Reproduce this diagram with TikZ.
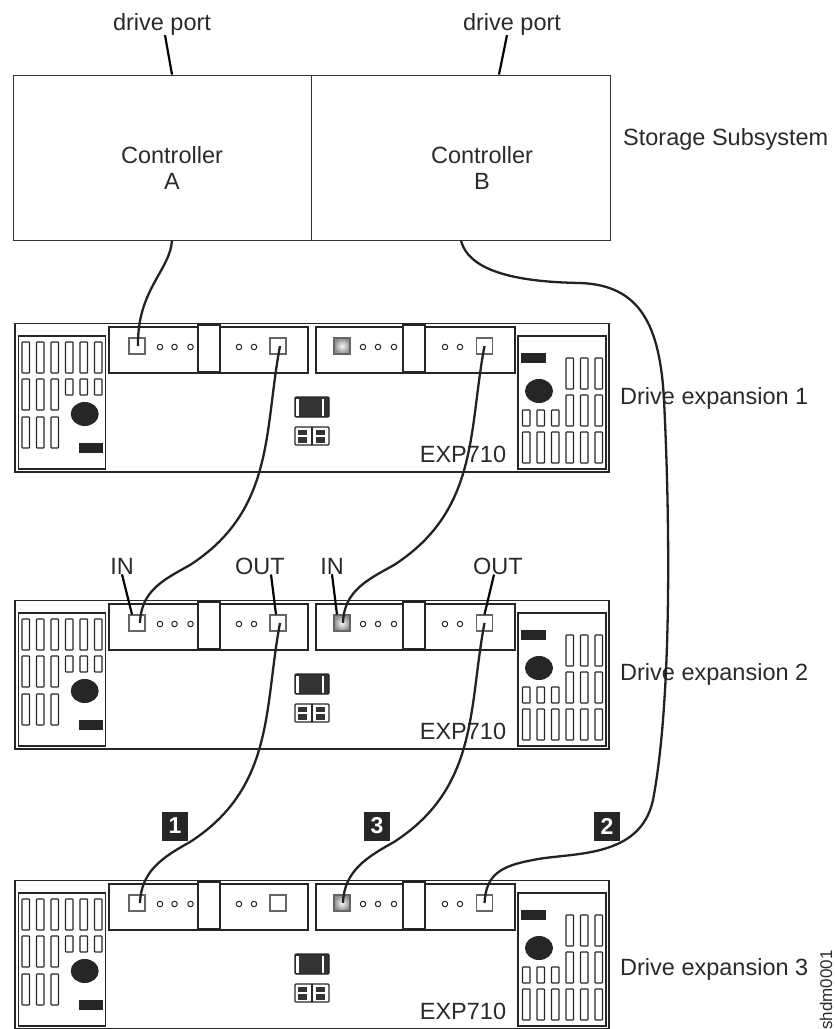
\documentclass[tikz,border=0pt]{standalone}
\usepackage{fontspec}
\setmainfont{Liberation Sans}
\usetikzlibrary{arrows.meta,calc,positioning}
\definecolor{cableblack}{HTML}{222222}
\definecolor{textgray}{HTML}{2A2A2A}
\begin{document}
\begin{tikzpicture}[
        x=1pt,
        y=-1pt,
        caption/.style={
            align=center,
            inner sep=0pt,
            text=textgray,
            font=\fontsize{23.5}{26}\selectfont
        },
        sidecaption/.style={caption, anchor=west},
        ctrlbox/.style={draw=black!80, line width=0.9pt, minimum width=298.5pt, minimum height=165pt, inner sep=0pt},
        chassis/.style={draw=black!85, line width=1.3pt},
        panel/.style={draw=black!85, line width=1.2pt},
        slot/.style={draw=black!85, line width=1.1pt, rounded corners=0.6pt},
        portbox/.style={draw=black!60, line width=1.1pt, fill=white, minimum size=16pt, inner sep=0pt},
        shadedport/.style={portbox, inner color=black!3, outer color=black!45},
        led/.style={draw=black!85, line width=1pt, fill=white, circle, minimum size=5.5pt, inner sep=0pt},
        cable/.style={draw=cableblack, line width=2.3pt},
        leader/.style={draw=black, line width=2.2pt},
        badge/.style={fill=black!85, text=white, minimum width=26pt, minimum height=29pt, inner sep=0pt, font=\fontsize{23}{23}\selectfont\bfseries},
        pics/expansion/.style={code={
            \draw[chassis] (15,0.5) rectangle (609,149);
            \draw[panel] (18.5,13) rectangle (105.5,146);
            \draw[panel] (518,13) rectangle (606,146);
            \draw[panel] (109,4) rectangle (308,50);
            \draw[panel] (316,4) rectangle (515,50);
            \draw[panel, fill=white] (198,2) rectangle (220,49);
            \draw[panel, fill=white] (403,2) rectangle (425,49);
            \foreach \xa in {22,36.5,51} {
                \draw[slot] (\xa,19) rectangle ++(7.5,31);
                \draw[slot] (\xa,56) rectangle ++(7.5,31);
                \draw[slot] (\xa,94) rectangle ++(7.5,31);
            }
            \foreach \xa in {65.5,80,94.5} {
                \draw[slot] (\xa,19) rectangle ++(7.5,31);
                \draw[slot] (\xa,56) rectangle ++(7.5,16);
            }
            \foreach \xa in {566,580.5,595} {
                \draw[slot] (\xa,35) rectangle ++(7.5,31);
                \draw[slot] (\xa,72) rectangle ++(7.5,31);
                \draw[slot] (\xa,109) rectangle ++(7.5,31);
            }
            \foreach \xa in {522.5,537,551.5} {
                \draw[slot] (\xa,87) rectangle ++(7.5,16);
                \draw[slot] (\xa,109) rectangle ++(7.5,31);
            }
            \fill[black!85] (84.7,91) ellipse (14 and 12);
            \fill[black!85] (539,68) ellipse (14 and 12);
            \fill[black!85] (79,120) rectangle (103,130);
            \fill[black!85] (521,30) rectangle (546,40);
            \draw[panel, fill=black!80, rounded corners=1pt] (295,74) rectangle (329,94);
            \fill[white] (296,75.5) rectangle (299,92.5);
            \fill[white] (322,75.5) rectangle (324,92.5);
            \draw[panel, rounded corners=1pt] (295,104) rectangle (329,122);
            \draw[panel] (312,104) -- (312,122);
            \foreach \xa in {298,316} {
                \fill[black!80] (\xa,106.5) rectangle ++(9,5.5);
                \fill[black!80] (\xa,114) rectangle ++(9,5.5);
            }
            \node[portbox] (-portA) at (137,23) {};
            \node[portbox] (-portB) at (278,23) {};
            \node[shadedport, draw=black!60] (-portC) at (342,23) {};
            \node[portbox] (-portD) at (484.5,23) {};
            \foreach \xa in {160,174.5,190.5,239,254,363,378,394,445,460} {
                \node[led] at (\xa,24) {};
            }
            \node[caption] (-model) at (463,131) {EXP710};
        }}
    ]
        \useasboundingbox (0,0) rectangle (835,1029);

        \node[ctrlbox] (ctrlA) at (162.5,157.5) {};
        \node[ctrlbox] (ctrlB) at (461,157.5) {};
        \node[caption] (ctrlAtext) at (172,168) {Controller\\A};
        \node[caption] (ctrlBtext) at (482,168) {Controller\\B};
        \node[caption] (driveA) at (162,24) {drive port};
        \node[caption] (driveB) at (512,24) {drive port};
        \node[sidecaption] (subsystem) at (623,139) {Storage Subsystem};

        \pic (exp1) at (0,323) {expansion};
        \pic (exp2) at (0,600) {expansion};
        \pic (exp3) at (0,880) {expansion};

        \node[sidecaption] (label1) at (620,398) {Drive expansion 1};
        \node[sidecaption] (label2) at (620,674) {Drive expansion 2};
        \node[sidecaption] (label3) at (620,969) {Drive expansion 3};
        \node[caption, rotate=90, font=\fontsize{17}{17}\selectfont] (figid) at (826,990) {shdm0001};

        \node[caption] (inA) at (122,566) {IN};
        \node[caption] (outA) at (260,566) {OUT};
        \node[caption] (inB) at (332,566) {IN};
        \node[caption] (outB) at (498,566) {OUT};

        \node[badge] (badge1) at (175,826) {1};
        \node[badge] (badge3) at (377,826) {3};
        \node[badge] (badge2) at (607,826) {2};

        \draw[leader] ([xshift=3pt]driveA.south) -- ([xshift=9.5pt]ctrlA.north);
        \draw[leader] ([xshift=-5pt]driveB.south) -- ([xshift=38pt]ctrlB.north);
        \draw[leader] (inA.south) -- ([xshift=-5pt]exp2-portA.north);
        \draw[leader] ([xshift=11pt]outA.south) -- ([xshift=-2pt]exp2-portB.north);
        \draw[leader] (inB.south) -- ([xshift=-5pt]exp2-portC.north);
        \draw[leader] ([xshift=-4pt]outB.south) -- (exp2-portD.north);

        \draw[cable] ([xshift=9.5pt]ctrlA.south) .. controls +(-2,30) and (137,290) .. ([xshift=1pt]exp1-portA.center);
        \draw[cable] ([xshift=2pt]exp1-portB.center) .. controls +(-16,84) and +(85,-55) .. (190,565) .. controls +(-27,15) and +(1,-32) .. ([xshift=3pt]exp2-portA.center);
        \draw[cable] (exp1-portD.center) .. controls +(-16,84) and +(85,-55) .. (394,565) .. controls +(-27,15) and +(1,-32) .. ([xshift=1pt]exp2-portC.center);
        \draw[cable] ([xshift=2pt]exp2-portB.center) .. controls +(-16,84) and +(85,-55) .. (190,842) .. controls +(-27,15) and +(1,-32) .. ([xshift=3pt]exp3-portA.center);
        \draw[cable] (exp2-portD.center) .. controls +(-16,84) and +(85,-55) .. (394,842) .. controls +(-27,15) and +(1,-32) .. ([xshift=1pt]exp3-portC.center);
        \draw[cable] (ctrlB.south) .. controls +(8,32) and (520,282) .. (580,283) .. controls (640,285) and (660,325) .. (664,400) .. controls (670,520) and (672,700) .. (653,800) .. controls (640,860) and (570,852) .. (533,860) .. controls (500,866) and (486,875) .. (exp3-portD.center);
    \end{tikzpicture}
\end{document}
